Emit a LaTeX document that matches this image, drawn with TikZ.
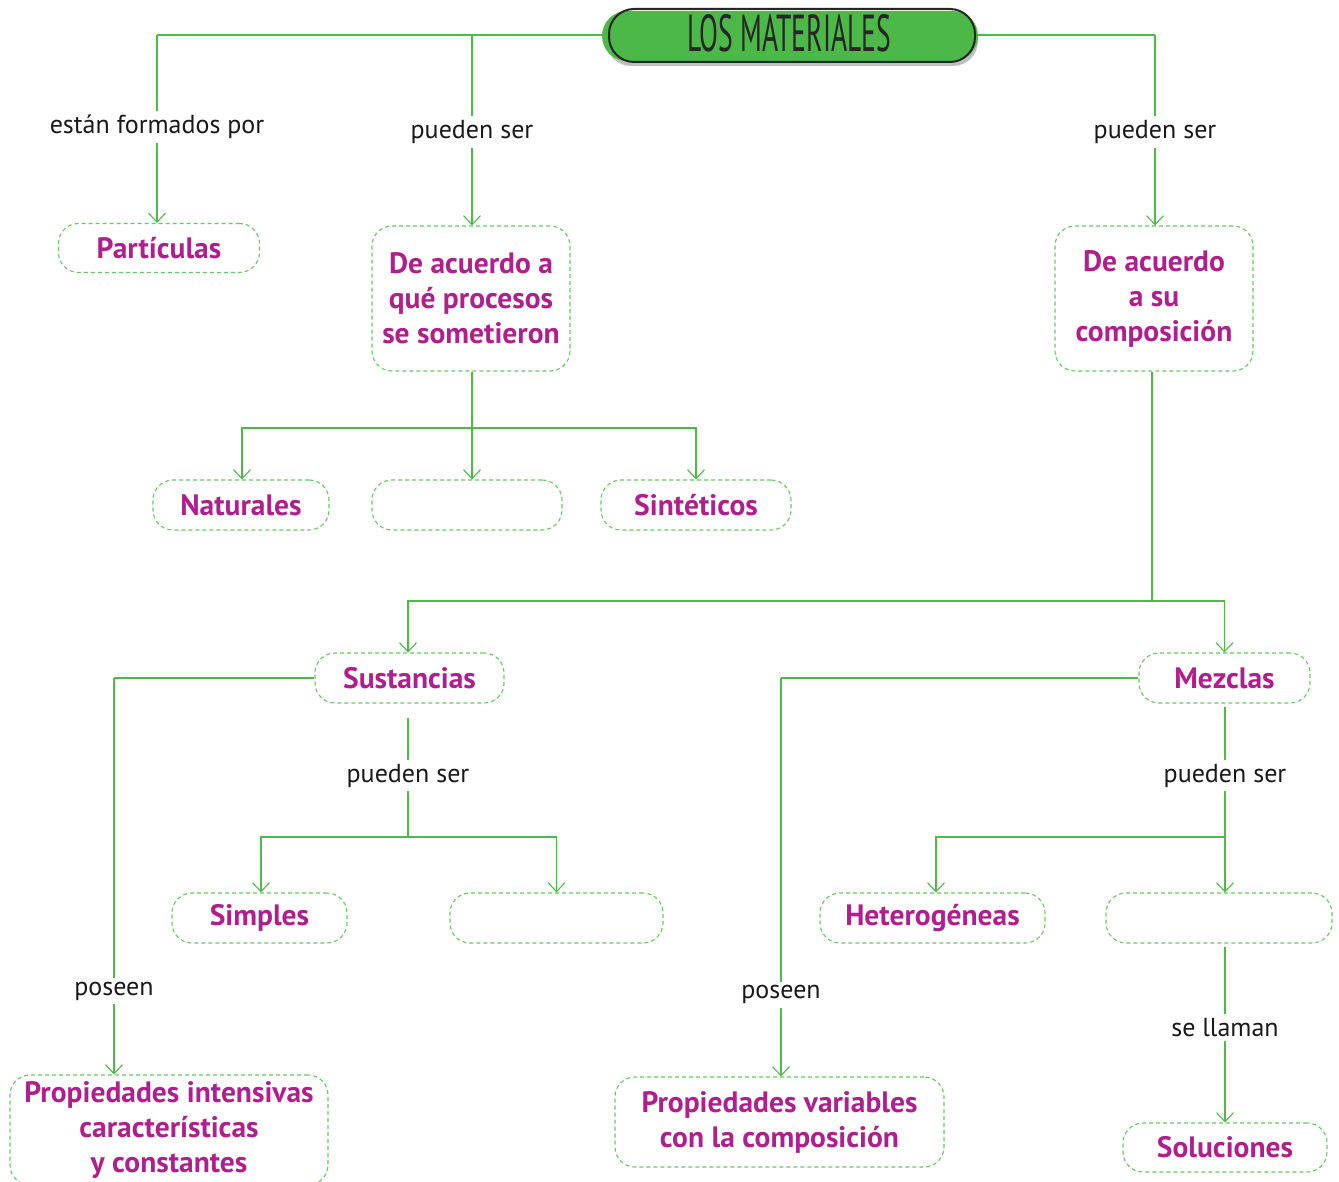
\documentclass[tikz,border=0pt]{standalone}
\usepackage{fontspec}
\setmainfont{PT Sans}
\usetikzlibrary{arrows.meta,calc}
\definecolor{lgreen}{RGB}{80,186,72}
\definecolor{dgreen}{RGB}{105,200,98}
\definecolor{titlegreen}{RGB}{76,184,72}
\definecolor{mag}{RGB}{176,32,140}
\tikzset{
  conn/.style={draw=lgreen, line width=1.1pt},
  arr/.style={conn, -{Straight Barb[length=9pt,width=17pt,line width=1.1pt]}},
  box/.style={draw=dgreen, dash pattern=on 4pt off 3pt, line width=1.1pt,
    rounded corners=20pt, text=mag, align=center, inner sep=0pt,
    font=\bfseries\fontsize{29.5}{35}\selectfont},
  lab/.style={fill=white, text=black!90, inner sep=4pt,
    font=\fontsize{26}{30}\selectfont},
}
\begin{document}
\begin{tikzpicture}[x=1pt,y=-1pt]
\clip (0,0) rectangle (1339,1182);
\fill[white] (0,0) rectangle (1339,1182);

% title
\fill[black!25, rounded corners=25pt] (606,14) rectangle (978,66);
\node[fill=titlegreen, rounded corners=25pt, minimum width=376pt, minimum height=50pt, inner sep=0pt] (title) at (790,36) {};
\draw[black!85, line width=2pt, rounded corners=25pt] (609,9) rectangle (975,62);
\node[text=black!85] (ttext) at (789,33) {\scalebox{0.53}[1]{\fontsize{52}{52}\selectfont LOS MATERIALES}};

% boxes
\node[box, minimum width=201pt, minimum height=49pt] (part) at (159,248) {Partículas};
\node[box, minimum width=198pt, minimum height=145pt] (proc) at (471,298.5) {De acuerdo a\\qué procesos\\se sometieron};
\node[box, minimum width=198pt, minimum height=145pt] (comp) at (1154,298.5) {De acuerdo\\a su\\composición};
\node[box, minimum width=176pt, minimum height=50pt] (nat) at (241,505) {Naturales};
\node[box, minimum width=190pt, minimum height=50pt] (emp1) at (467,505) {};
\node[box, minimum width=190pt, minimum height=50pt] (sint) at (696,505) {Sintéticos};
\node[box, minimum width=189pt, minimum height=50pt] (sust) at (409.5,678) {Sustancias};
\node[box, minimum width=171pt, minimum height=50pt] (mezc) at (1224.5,678) {Mezclas};
\node[box, minimum width=175pt, minimum height=50pt] (simp) at (259.5,918) {Simples};
\node[box, minimum width=213pt, minimum height=50pt] (emp2) at (556.5,918) {};
\node[box, minimum width=225pt, minimum height=50pt] (het) at (932.5,918) {Heterogéneas};
\node[box, minimum width=226pt, minimum height=50pt] (emp3) at (1219,918) {};
\node[box, minimum width=204pt, minimum height=49pt] (sol) at (1225,1147.5) {Soluciones};
\node[box, minimum width=318pt, minimum height=110pt] (pint) at (169,1130) {Propiedades intensivas\\características\\y constantes};
\node[box, minimum width=329pt, minimum height=90pt] (pvar) at (779.5,1122) {Propiedades variables\\con la composición};

% top connectors
\coordinate (t1) at (157,35);
\coordinate (t2) at (472,35);
\coordinate (t3) at (1155,35);
\draw[conn] (title.west |- t1) -- (t1);
\draw[conn] (title.east |- t3) -- (t3);
\draw[arr] (t1) -- node[lab, pos=0.49]{están formados por} (t1 |- part.north);
\draw[arr] (t2) -- node[lab, pos=0.51]{pueden ser} (t2 |- proc.north);
\draw[arr] (t3) -- node[lab, pos=0.51]{pueden ser} (t3 |- comp.north);

% process branch
\coordinate (b1) at (472,428);
\draw[conn] (b1 |- proc.south) -- (b1);
\draw[arr] (b1) -| ([xshift=1pt]nat.north);
\draw[arr] (b1) -- (b1 |- emp1.north);
\draw[arr] (b1) -| (sint.north);

% composition branch
\coordinate (b2) at (1152,601);
\draw[conn] (b2 |- comp.south) -- (b2);
\draw[arr] (b2) -| ([xshift=-1.5pt]sust.north);
\draw[arr] (b2) -| (mezc.north);

% sustancias
\coordinate (c1) at (114,678);
\draw[conn] (sust.west) -- (c1);
\draw[arr] (c1) -- node[lab, pos=0.79]{poseen} (c1 |- pint.north);
\coordinate (c2) at (408,837);
\draw[conn, shorten <=14pt] (c2 |- sust.south) -- node[lab, pos=0.54]{pueden ser} (c2);
\draw[arr] (c2) -| ([xshift=1.5pt]simp.north);
\draw[arr] (c2) -| (emp2.north);

% mezclas
\coordinate (d1) at (781,678);
\draw[conn] (mezc.west) -- (d1);
\draw[arr] (d1) -- node[lab, pos=0.795]{poseen} (d1 |- pvar.north);
\coordinate (d2) at (1225,837);
\draw[conn, shorten <=3pt] (d2 |- mezc.south) -- node[lab, pos=0.54]{pueden ser} (d2);
\draw[arr] (d2) -- (d2 |- emp3.north);
\draw[arr] (d2) -| ([xshift=3.5pt]het.north);
\draw[arr, shorten <=3pt] (sol.north |- emp3.south) -- node[lab, pos=0.47]{se llaman} (sol.north);
\end{tikzpicture}
\end{document}
